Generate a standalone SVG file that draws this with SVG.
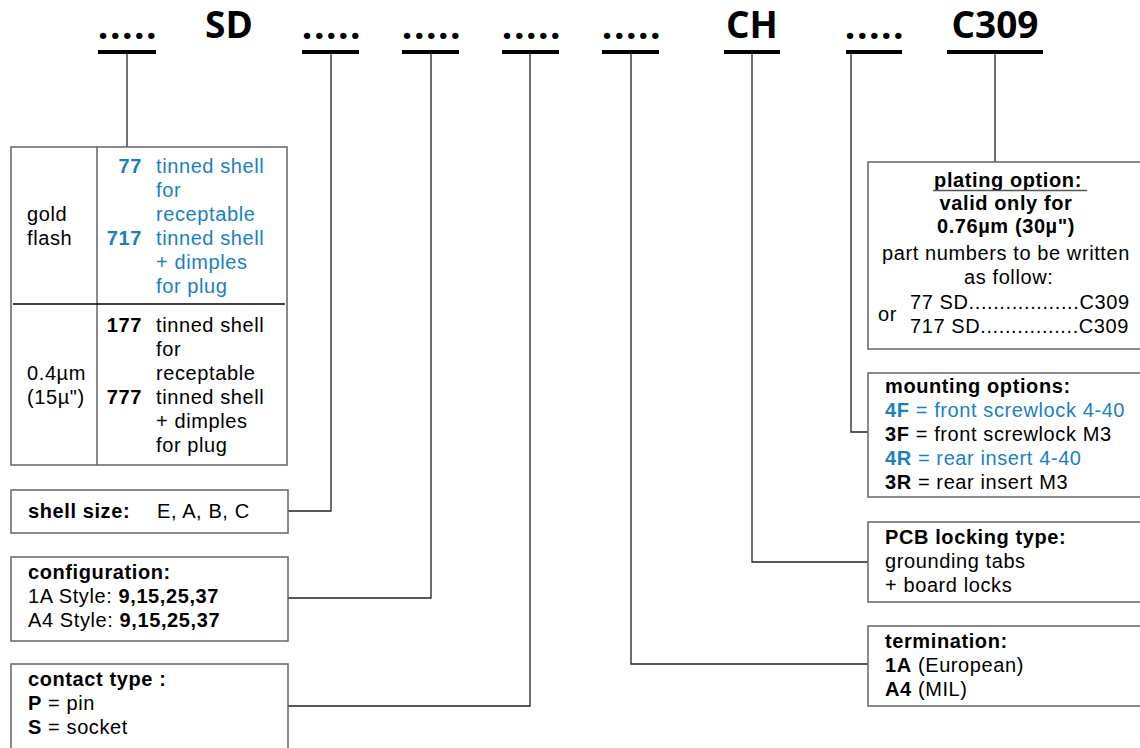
<svg xmlns="http://www.w3.org/2000/svg" width="1140" height="748" viewBox="0 0 1140 748">
<style>
.hdr{font-family:"Open Sans","DejaVu Sans",sans-serif;font-weight:bold;font-size:37px;fill:#000;text-anchor:middle}
.dots{letter-spacing:1.5px}
.ul{stroke:#000;stroke-width:4}
.box{fill:#fff;stroke:#666;stroke-width:1.5}
.t{font-family:"Liberation Sans",Arial,sans-serif;font-size:20px;letter-spacing:0.6px;fill:#000}
.b{font-weight:bold}
.blue{fill:#1a7fc6}
.end{text-anchor:end}
.mid{text-anchor:middle}
.con{fill:none;stroke:#222;stroke-width:1.3}
</style>
<rect width="1140" height="748" fill="#fff"/>

<g id="code">
  <g id="seg-plating-pre"><text class="hdr dots" x="128" y="39">.....</text><line class="ul" x1="98" y1="52" x2="156" y2="52"/></g>
  <g id="seg-sd"><text class="hdr" x="229" y="38">SD</text></g>
  <g id="seg-shell"><text class="hdr dots" x="332" y="39">.....</text><line class="ul" x1="302" y1="52" x2="359" y2="52"/></g>
  <g id="seg-config"><text class="hdr dots" x="432" y="39">.....</text><line class="ul" x1="402" y1="52" x2="459" y2="52"/></g>
  <g id="seg-contact"><text class="hdr dots" x="532" y="39">.....</text><line class="ul" x1="502" y1="52" x2="559" y2="52"/></g>
  <g id="seg-term"><text class="hdr dots" x="632" y="39">.....</text><line class="ul" x1="602" y1="52" x2="659" y2="52"/></g>
  <g id="seg-ch"><text class="hdr" x="752" y="38">CH</text><line class="ul" x1="724" y1="52" x2="780" y2="52"/></g>
  <g id="seg-mount"><text class="hdr dots" x="875" y="39">.....</text><line class="ul" x1="846" y1="52" x2="902" y2="52"/></g>
  <g id="seg-c309"><text class="hdr" x="995" y="38">C309</text><line class="ul" x1="947" y1="52" x2="1043" y2="52"/></g>
</g>

<g id="connectors">
  <path class="con" d="M127,54 V147"/>
  <path class="con" d="M331,54 V511 H288"/>
  <path class="con" d="M431,54 V598 H288"/>
  <path class="con" d="M530,54 V706 H288"/>
  <path class="con" d="M631,54 V664 H868"/>
  <path class="con" d="M752,54 V562 H868"/>
  <path class="con" d="M851,54 V432 H868"/>
  <path class="con" d="M995,54 V162"/>
</g>

<g id="plating-table">
  <rect class="box" x="11" y="147" width="276" height="318"/>
  <line x1="97" y1="147" x2="97" y2="465" stroke="#666" stroke-width="1.5"/>
  <line x1="13" y1="304" x2="285" y2="304" stroke="#000" stroke-width="1.5"/>
  <text class="t" x="27" y="221">gold</text>
  <text class="t" x="27" y="245">flash</text>
  <text class="t b blue end" x="142" y="173">77</text>
  <text class="t blue" x="156" y="173">tinned shell</text>
  <text class="t blue" x="156" y="197">for</text>
  <text class="t blue" x="156" y="221">receptable</text>
  <text class="t b blue end" x="142" y="245">717</text>
  <text class="t blue" x="156" y="245">tinned shell</text>
  <text class="t blue" x="156" y="269">+ dimples</text>
  <text class="t blue" x="156" y="293">for plug</text>
  <text class="t" x="27" y="380">0.4µm</text>
  <text class="t" x="27" y="404">(15µ")</text>
  <text class="t b end" x="142" y="332">177</text>
  <text class="t" x="156" y="332">tinned shell</text>
  <text class="t" x="156" y="356">for</text>
  <text class="t" x="156" y="380">receptable</text>
  <text class="t b end" x="142" y="404">777</text>
  <text class="t" x="156" y="404">tinned shell</text>
  <text class="t" x="156" y="428">+ dimples</text>
  <text class="t" x="156" y="452">for plug</text>
</g>

<g id="shell-size">
  <rect class="box" x="11" y="490" width="277" height="43"/>
  <text class="t b" x="28" y="518">shell size:</text>
  <text class="t" x="157" y="518">E, A, B, C</text>
</g>

<g id="configuration">
  <rect class="box" x="11" y="557" width="277" height="84"/>
  <text class="t b" x="28" y="579">configuration:</text>
  <text class="t" x="28" y="603">1A Style: <tspan class="b">9,15,25,37</tspan></text>
  <text class="t" x="28" y="627">A4 Style: <tspan class="b">9,15,25,37</tspan></text>
</g>

<g id="contact-type">
  <rect class="box" x="11" y="664" width="277" height="100"/>
  <text class="t b" x="28" y="686">contact type :</text>
  <text class="t" x="28" y="710"><tspan class="b">P</tspan> = pin</text>
  <text class="t" x="28" y="734"><tspan class="b">S</tspan> = socket</text>
</g>

<g id="plating-option">
  <rect class="box" x="868" y="162" width="282" height="187"/>
  <text class="t b mid" x="1008" y="187">plating option:</text>
  <line x1="933" y1="190.5" x2="1087" y2="190.5" stroke="#555" stroke-width="1.5"/>
  <text class="t b mid" x="1006" y="210">valid only for</text>
  <text class="t b mid" x="1006" y="233">0.76µm (30µ")</text>
  <text class="t mid" x="1006" y="260">part numbers to be written</text>
  <text class="t" x="964" y="284">as follow:</text>
  <text class="t" x="878" y="321">or</text>
  <text class="t" x="910" y="309">77 SD..................C309</text>
  <text class="t" x="910" y="333">717 SD................C309</text>
</g>

<g id="mounting-options">
  <rect class="box" x="868" y="373" width="282" height="124"/>
  <text class="t b" x="885" y="393">mounting options:</text>
  <text class="t blue" x="885" y="417"><tspan class="b">4F</tspan> = front screwlock 4-40</text>
  <text class="t" x="885" y="441"><tspan class="b">3F</tspan> = front screwlock M3</text>
  <text class="t blue" x="885" y="465"><tspan class="b">4R</tspan> = rear insert 4-40</text>
  <text class="t" x="885" y="489"><tspan class="b">3R</tspan> = rear insert M3</text>
</g>

<g id="pcb-locking">
  <rect class="box" x="868" y="522" width="282" height="80"/>
  <text class="t b" x="885" y="544">PCB locking type:</text>
  <text class="t" x="885" y="568">grounding tabs</text>
  <text class="t" x="885" y="592">+ board locks</text>
</g>

<g id="termination">
  <rect class="box" x="868" y="626" width="282" height="80"/>
  <text class="t b" x="885" y="648">termination:</text>
  <text class="t" x="885" y="672"><tspan class="b">1A</tspan> (European)</text>
  <text class="t" x="885" y="696"><tspan class="b">A4</tspan> (MIL)</text>
</g>
</svg>
